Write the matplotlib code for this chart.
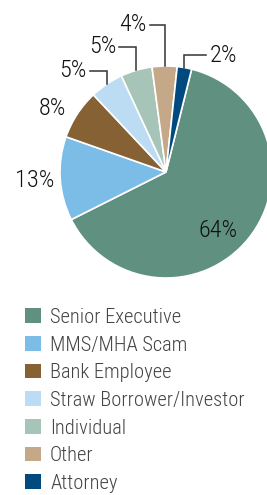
import matplotlib
matplotlib.use("Agg")
import matplotlib.pyplot as plt
import numpy as np
from matplotlib import font_manager
from matplotlib.patches import Patch

categories = ["Senior Executive", "MMS/MHA Scam", "Bank Employee",
              "Straw Borrower/Investor", "Individual", "Other", "Attorney"]
values = [63.7, 12.8, 7.6, 5.1, 4.8, 3.8, 2.2]
colors = ["#5f9080", "#7bbde6", "#866134", "#bcdcf3", "#a7c4b8", "#c4a888", "#004a80"]

fonts = {}
for f in font_manager.fontManager.ttflist:
    fonts.setdefault(f.name, set()).add(f.weight)
candidates = [("Roboto Condensed", 300), ("Roboto Condensed", 400), ("Archivo Narrow", 400),
              ("PT Sans Narrow", 400), ("Liberation Sans Narrow", 400),
              ("Open Sans Condensed", 300), ("Pragati Narrow", 400), ("Liberation Sans", 400)]
FONT, WEIGHT = "DejaVu Sans", 400
for name, wt in candidates:
    if name in fonts and (wt in fonts[name] or wt == 400):
        FONT, WEIGHT = name, (wt if wt in fonts[name] else "normal")
        break
plt.rcParams["font.family"] = [FONT, "DejaVu Sans"]
plt.rcParams["font.weight"] = WEIGHT

W, H = 267, 495
fig = plt.figure(figsize=(W / 100, H / 100), dpi=100)
cx, cy, R = 166, 172, 106
ax = fig.add_axes([(cx - R) / W, (H - cy - R) / H, 2 * R / W, 2 * R / H])
wedges, _ = ax.pie(values, colors=colors, startangle=76, counterclock=False,
                   wedgeprops=dict(edgecolor="white", linewidth=1.2))
ax.set_xlim(-1, 1)
ax.set_ylim(-1, 1)
ax.set_aspect("equal")
ax.axis("off")
for w in wedges:
    w.set_clip_on(False)

labels = [f"{round(v):d}%" for v in values]
mids = [np.deg2rad((w.theta1 + w.theta2) / 2) for w in wedges]

fs = 17.5
lc = "#111111"
ax.text(0.49, -0.55, labels[0], ha="center", va="center", fontsize=fs, color=lc)
ax.text(1.24 * np.cos(mids[1]), 1.24 * np.sin(mids[1]), labels[1], ha="center", va="center", fontsize=fs, color=lc)
ax.text(-1.075, 0.60, labels[2], ha="center", va="center", fontsize=fs, color=lc)

# leader labels: (index, line height, text-side x end, side)
leaders = [(3, 0.953, -0.72, "left"), (4, 1.18, -0.44, "left"),
           (5, 1.387, -0.15, "left"), (6, 1.10, 0.38, "right")]
for i, yh, xe, side in leaders:
    xw = np.cos(mids[i])
    yw = np.sin(mids[i])
    ax.plot([xe, xw, xw], [yh, yh, yw], color="#333333", lw=1.1, clip_on=False,
            solid_joinstyle="miter")
    if side == "left":
        ax.text(xe - 0.03, yh, labels[i], ha="right", va="center", fontsize=fs, color=lc)
    else:
        ax.text(xe + 0.03, yh, labels[i], ha="left", va="center", fontsize=fs, color=lc)

handles = [Patch(facecolor=c, edgecolor="none") for c in colors]
leg = fig.legend(handles, categories, loc="upper left", bbox_to_anchor=(25 / W, 1 - 308 / H),
                 frameon=False, fontsize=14.8, handlelength=0.78, handleheight=0.73,
                 handletextpad=0.44, labelspacing=0.42, borderaxespad=0, borderpad=0)
for t in leg.get_texts():
    t.set_color("#444444")

fig.savefig("out.png", dpi=100)
